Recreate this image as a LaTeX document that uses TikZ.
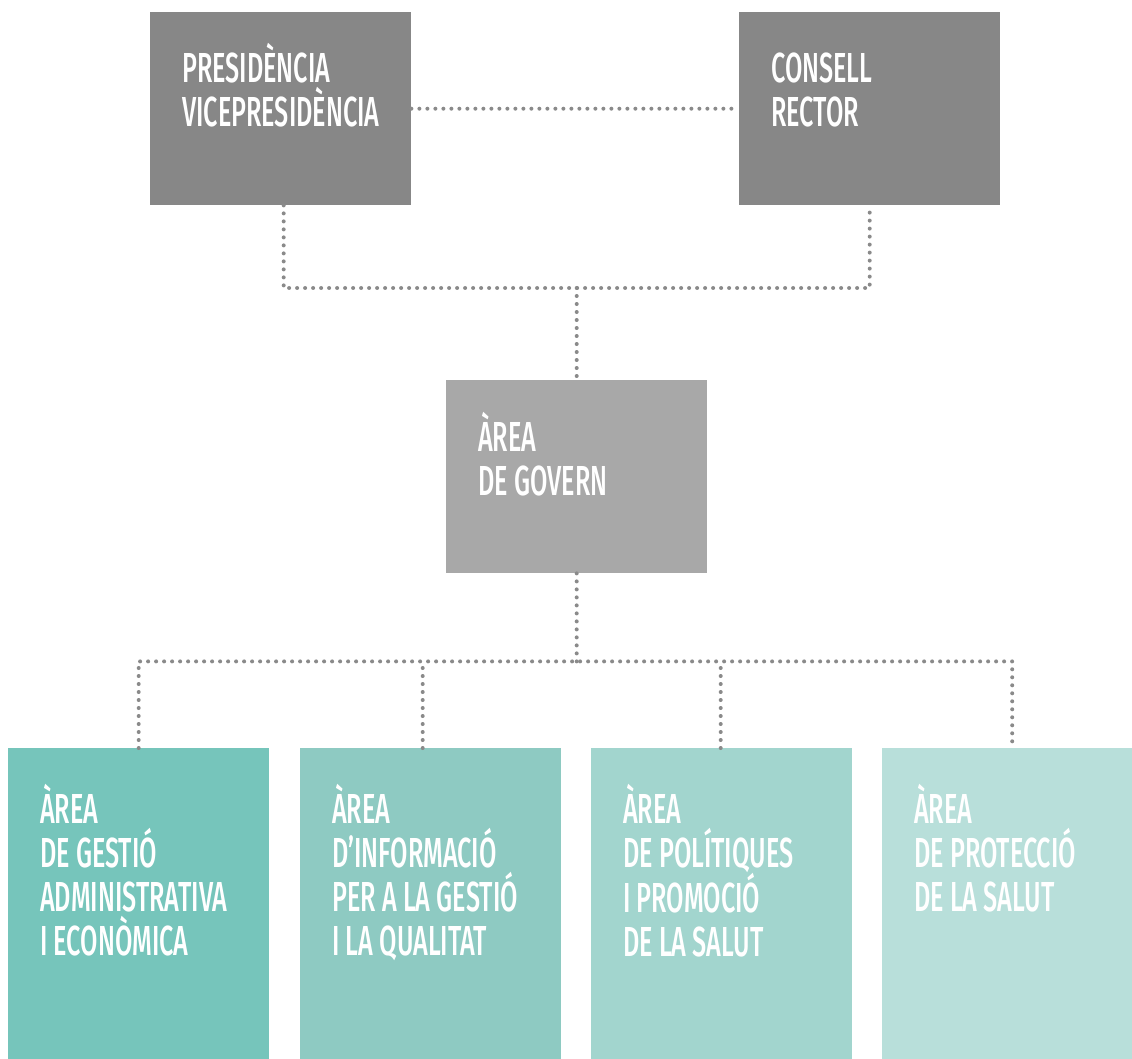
\documentclass[tikz,border=0pt]{standalone}
\usepackage{fontspec}
\usepackage{tikz}
\usetikzlibrary{calc}
\newfontfamily\condfont[FakeStretch=0.6, UprightFont={* Medium}]{Fira Sans}
\newcommand{\boxlines}[1]{\parbox[t]{230pt}{\raggedright\condfont\fontsize{42}{44}\selectfont #1}}

\begin{document}
\begin{tikzpicture}[x=1pt,y=1pt,
  orgbox/.style={draw=none, anchor=north west, minimum width=261pt, minimum height=193pt, inner sep=0pt},
  boxtext/.style={anchor=base west, xshift=32pt, yshift=-71pt, text=white, inner sep=0pt},
  lowtext/.style={boxtext, yshift=-4pt},
  dotline/.style={color=dotGray, line width=4pt, line cap=round, dash pattern=on 0pt off 8pt}]
\definecolor{dotGray}{RGB}{138,138,138}
\definecolor{topGray}{RGB}{135,135,135}
\definecolor{govGray}{RGB}{168,168,168}
\definecolor{areaA}{RGB}{118,197,187}
\definecolor{areaB}{RGB}{142,202,194}
\definecolor{areaC}{RGB}{162,213,206}
\definecolor{areaD}{RGB}{184,223,218}
\useasboundingbox (0,0) rectangle (1132,-1059);
% top level
\node[orgbox, fill=topGray, label={[boxtext]north west:\boxlines{PRESIDÈNCIA\\VICEPRESIDÈNCIA}}] (pres) at (150,-12) {};
\node[orgbox, fill=topGray, label={[boxtext]north west:\boxlines{CONSELL\\RECTOR}}] (cons) at (739,-12) {};
% govern
\node[orgbox, fill=govGray, label={[boxtext]north west:\boxlines{ÀREA\\DE GOVERN}}] (gov) at (446,-380) {};
% areas
\node[orgbox, fill=areaA, minimum height=311pt, label={[lowtext]north west:\boxlines{ÀREA\\DE GESTIÓ\\ADMINISTRATIVA\\I ECONÒMICA}}] (areaGest) at (8,-748) {};
\node[orgbox, fill=areaB, minimum height=311pt, label={[lowtext]north west:\boxlines{ÀREA\\D’INFORMACIÓ\\PER A LA GESTIÓ\\I LA QUALITAT}}] (areaInfo) at (300,-748) {};
\node[orgbox, fill=areaC, minimum height=311pt, label={[lowtext]north west:\boxlines{ÀREA\\DE POLÍTIQUES\\I PROMOCIÓ\\DE LA SALUT}}] (areaPol) at (591,-748) {};
\node[orgbox, fill=areaD, minimum height=311pt, minimum width=250pt, label={[lowtext]north west:\boxlines{ÀREA\\DE PROTECCIÓ\\DE LA SALUT}}] (areaProt) at (882,-748) {};
% connectors
\coordinate (upJoin) at ($(gov.north)+(0,92)$);
\coordinate (lowJoin) at ($(gov.south)+(0,-88)$);
\coordinate (infoTop) at ($(areaInfo.north)+(-8,0)$);
\coordinate (polTop) at ($(areaPol.north)+(-1,0)$);
\draw[dotline] (pres.east) -- (cons.west);
\draw[dotline] ($(pres.south)+(3,0)$) |- (upJoin) -| (cons.south);
\draw[dotline] (upJoin) -- (gov.north);
\draw[dotline] (gov.south) -- (lowJoin);
\draw[dotline] (areaGest.north) |- (lowJoin) -| ($(areaProt.north)+(5,0)$);
\draw[dotline] (infoTop) -- (infoTop |- lowJoin);
\draw[dotline] (polTop) -- (polTop |- lowJoin);
\end{tikzpicture}
\end{document}
